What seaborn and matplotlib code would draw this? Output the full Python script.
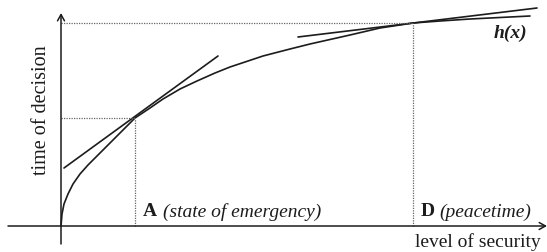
import matplotlib
matplotlib.use("Agg")
import matplotlib.pyplot as plt
import seaborn as sns
import pandas as pd

# curve h(x): level of security vs time of decision
security = [0, 1, 3, 7, 12, 19, 27, 36, 44, 54, 64, 74, 89, 102, 119, 136, 154, 169,
            202, 229, 249, 289, 319, 352, 379, 409, 439, 469]
decision = [0, 12, 22, 32, 42, 52, 61, 70, 78, 88, 98, 108, 118, 127, 137, 145, 153, 159,
            170, 177, 182, 191, 198, 203, 205, 207, 208.5, 210]

point_a = (74, 108)
point_d = (352, 203)
tangent_a_x = [3, 157]
tangent_a_y = [58, 170]
tangent_d_x = [237, 476]
tangent_d_y = [189, 218]

x_axis = (-53, 486)
y_axis = (-18, 213)

sns.set_style("white")
plt.rcParams['font.family'] = ['Liberation Serif', 'DejaVu Serif']

fig = plt.figure(figsize=(5.47, 2.53), dpi=100)
ax = fig.add_axes([0, 0, 1, 1])
ax.set_xlim(-61, 486)
ax.set_ylim(-26, 227)
ax.axis('off')

ink = '#1c1c1c'
df = pd.DataFrame({'security': security, 'decision': decision})
sns.lineplot(data=df, x='security', y='decision', ax=ax, color=ink, lw=1.2, sort=False)
sns.lineplot(x=tangent_a_x, y=tangent_a_y, ax=ax, color=ink, lw=1.2)
sns.lineplot(x=tangent_d_x, y=tangent_d_y, ax=ax, color=ink, lw=1.2)

# dotted guide lines
dot = dict(color='#666666', lw=0.9, ls=(0, (1, 1)))
for px, py in [point_a, point_d]:
    ax.plot([0, px], [py, py], **dot)
    ax.plot([px, px], [0, py], **dot)

# axes with open arrowheads
arr = dict(arrowstyle='->,head_length=0.45,head_width=0.25', lw=1.1, color=ink, shrinkA=0, shrinkB=0)
ax.annotate('', xy=(x_axis[1], 0), xytext=(x_axis[0], 0), arrowprops=arr)
ax.annotate('', xy=(0, y_axis[1]), xytext=(0, y_axis[0]), arrowprops=arr)

fs = 14
ax.text(-19, 117, 'time of decision', rotation=90, ha='center', va='center', fontsize=14.5, color=ink)
ax.text(354, -15, 'level of security', ha='left', va='center', fontsize=fs, color=ink)
ax.text(82, 15, 'A', ha='left', va='center', fontsize=fs, fontweight='bold', color=ink)
ax.text(102, 15, '(state of emergency)', ha='left', va='center', fontsize=fs, style='italic', color=ink)
ax.text(360, 15, 'D', ha='left', va='center', fontsize=fs, fontweight='bold', color=ink)
ax.text(378, 15, '(peacetime)', ha='left', va='center', fontsize=fs, style='italic', color=ink)
ax.text(449, 194, 'h(x)', ha='center', va='center', fontsize=fs, fontweight='bold', style='italic', color=ink)

fig.savefig('out.png', dpi=100)
